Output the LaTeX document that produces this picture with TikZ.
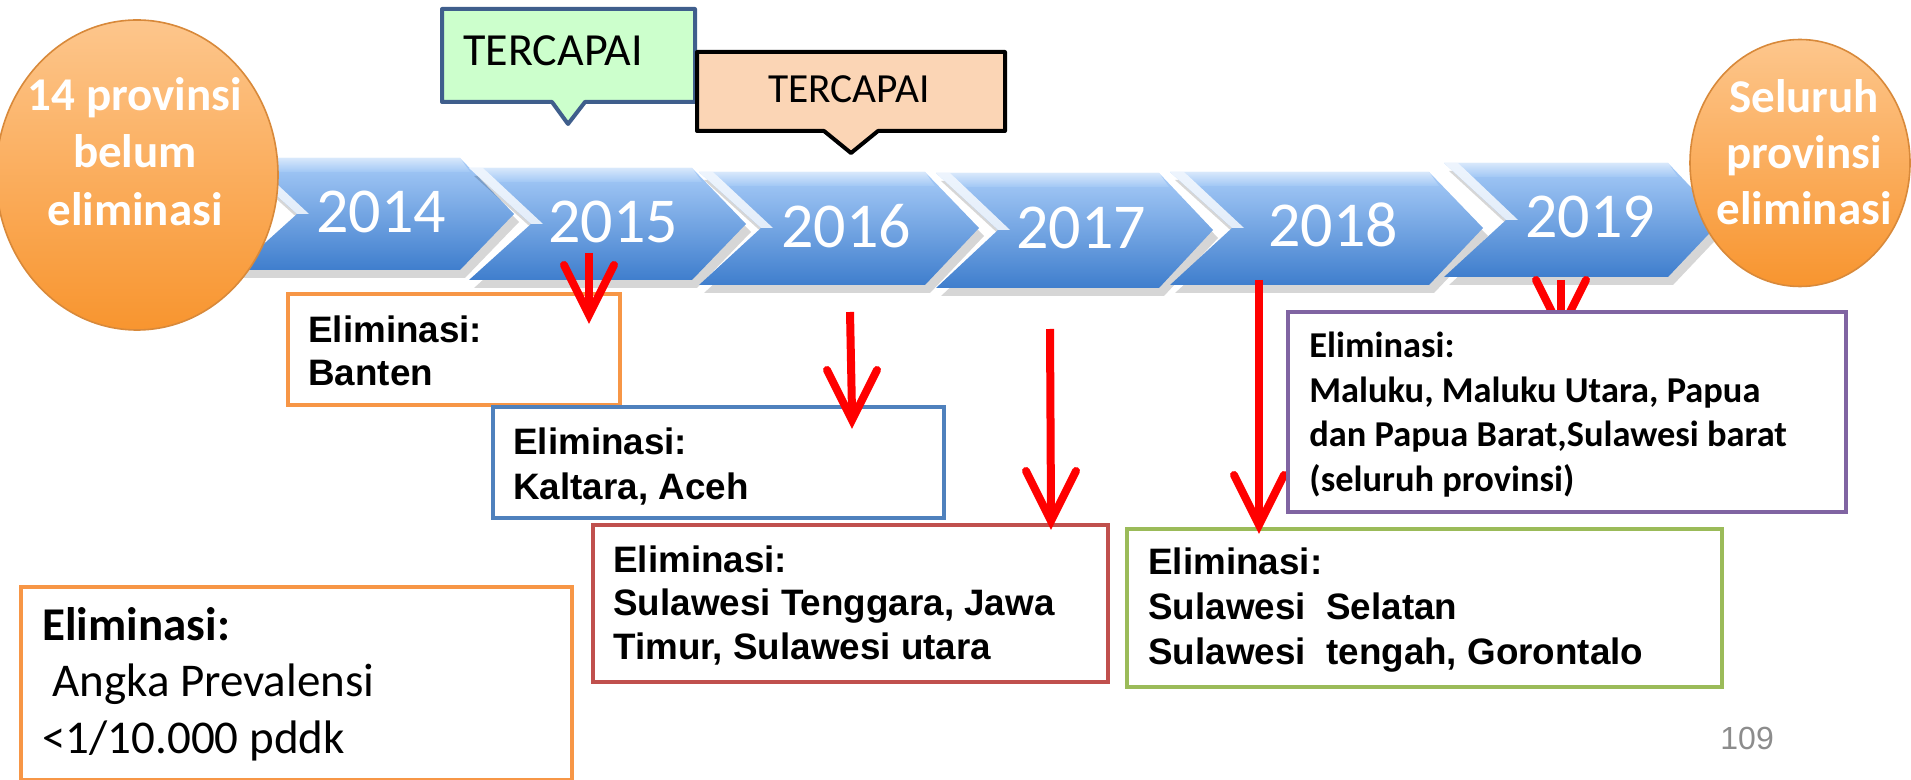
\documentclass[tikz,border=0pt]{standalone}
\usepackage{fontspec}
\setmainfont{Carlito}
\newfontfamily\arialf{Liberation Sans}
\usetikzlibrary{calc,shapes.geometric}

\definecolor{chevtop}{HTML}{A8CCF8}
\definecolor{chevbot}{HTML}{3F7ECD}
\definecolor{orgtop}{HTML}{FDC68C}
\definecolor{orgbot}{HTML}{F8952F}
\definecolor{orgedge}{HTML}{D8893A}
\definecolor{greenfill}{HTML}{CCFFCC}
\definecolor{greenedge}{HTML}{3F5E8C}
\definecolor{peach}{HTML}{FBD5B5}
\definecolor{bxorange}{HTML}{F79646}
\definecolor{bxblue}{HTML}{4F81BD}
\definecolor{bxred}{HTML}{C0504D}
\definecolor{bxgreen}{HTML}{9BBB59}
\definecolor{bxpurple}{HTML}{8064A2}
\definecolor{arrowred}{HTML}{FF0000}
\definecolor{pgnum}{HTML}{8C8C8C}

\newcommand{\chevron}[5]{%
  \fill[black,opacity=0.16] (#1+5,#3+8) -- (#2+5,#3+8) -- (#2+59,#5+8) -- (#2+5,#4+8) -- (#1+5,#4+8) -- (#1+67,#5+8) -- cycle;
  \shade[top color=chevtop, bottom color=chevbot] (#1,#3) -- (#2,#3) -- (#2+54,#5) -- (#2,#4) -- (#1,#4) -- (#1+62,#5) -- cycle;
  \shade[top color=white, bottom color=chevtop, opacity=0.55] (#1+14,#3) -- (#2,#3) -- (#2+10,#3+14) -- (#1+28,#3+14) -- cycle;
  \fill[white,opacity=0.8] (#1,#3) -- (#1+14,#3) -- (#1+74,#5) -- (#1+62,#5) -- cycle;
}

\begin{document}
\begin{tikzpicture}[x=0.5pt,y=-0.5pt,
  yeartext/.style={text=white, inner sep=0pt, font=\fontsize{32pt}{38pt}\selectfont},
  circtext/.style={text=white, inner sep=0pt, align=center, anchor=north},
  orgcirc/.style={ellipse, top color=orgtop, bottom color=orgbot, draw=orgedge, line width=0.8pt, inner sep=0pt},
  calltext/.style={inner sep=0pt, anchor=north west},
  elimbox/.style={draw=#1, fill=white, line width=2pt, inner sep=0pt, anchor=north west},
  ariatext/.style={inner sep=0pt, anchor=north west, align=left},
  redline/.style={draw=arrowred, line width=4pt},
  redhead/.style={draw=arrowred, line width=4pt, line cap=round, line join=miter},
]
\useasboundingbox (0,0) rectangle (1911,780);

% timeline chevrons
\chevron{235}{460}{158}{270}{214}
\chevron{469}{692}{168}{280}{224}
\chevron{699}{925}{172}{285}{228}
\chevron{936}{1159}{173}{288}{230}
\chevron{1170}{1429}{172}{285}{228}
\chevron{1444}{1668}{163}{277}{220}

\node[yeartext] (y2014) at (381,212) {2014};
\node[yeartext] (y2015) at (613,222) {2015};
\node[yeartext] (y2016) at (846,226) {2016};
\node[yeartext] (y2017) at (1081,228) {2017};
\node[yeartext] (y2018) at (1333,225) {2018};
\node[yeartext] (y2019) at (1590,217) {2019};

% end circles
\node[orgcirc, minimum width=141pt, minimum height=155pt] (startc) at (137,175) {};
\node[circtext, font=\bfseries\fontsize{23.5pt}{28.75pt}\selectfont] (startt) at (135,77) {14 provinsi\\belum\\eliminasi};
\node[orgcirc, minimum width=110pt, minimum height=123.5pt] (endc) at (1800,163) {};
\node[circtext, font=\bfseries\fontsize{23.5pt}{28pt}\selectfont] (endt) at (1804,79) {Seluruh\\provinsi\\eliminasi};

% callouts
\filldraw[fill=greenfill, draw=greenedge, line width=2pt, line join=round]
  (442,9) -- (695,9) -- (695,102) -- (585,102) -- (568,124) -- (552,102) -- (442,102) -- cycle;
\node[calltext, font=\fontsize{23pt}{27pt}\selectfont] (tc1) at (463,35) {TERCAPAI};
\filldraw[fill=peach, draw=black, line width=2pt, line join=round]
  (697,52) -- (1005,52) -- (1005,131) -- (878,131) -- (851,153) -- (824,131) -- (697,131) -- cycle;
\node[calltext, font=\fontsize{20.7pt}{25pt}\selectfont] (tc2) at (768,75) {TERCAPAI};

% elimination boxes
\node[elimbox=bxorange, minimum width=166pt, minimum height=55.5pt] (b15) at (286,292) {};
\node[ariatext, font=\arialf\bfseries\fontsize{18.4pt}{21.5pt}\selectfont] (t15) at (308,315) {Eliminasi:\\Banten};
\node[elimbox=bxblue, minimum width=225.5pt, minimum height=55.5pt] (b16) at (491,405) {};
\node[ariatext, font=\arialf\bfseries\fontsize{18.4pt}{22.5pt}\selectfont] (t16) at (513,427) {Eliminasi:\\Kaltara, Aceh};
\node[elimbox=bxred, minimum width=257.5pt, minimum height=78.5pt] (b17) at (591,523) {};
\node[ariatext, font=\arialf\bfseries\fontsize{18.4pt}{21.75pt}\selectfont] (t17) at (613,545) {Eliminasi:\\Sulawesi Tenggara, Jawa\\Timur, Sulawesi utara};
\node[elimbox=bxgreen, minimum width=297.5pt, minimum height=79pt] (b18) at (1125,527) {};
\node[ariatext, font=\arialf\bfseries\fontsize{18.4pt}{22.5pt}\selectfont] (t18) at (1148,547) {Eliminasi:\\Sulawesi\ \ Selatan\\Sulawesi\ \ tengah, Gorontalo};
\node[elimbox=bxorange, minimum width=275.5pt, minimum height=96.5pt] (bdef) at (19,585) {};
\node[ariatext, font=\fontsize{23.5pt}{28.25pt}\selectfont] (tdef) at (42,607) {\textbf{Eliminasi:}\\\hspace*{5pt}Angka Prevalensi\\<1/10.000 pddk};

% red arrows
\coordinate (a15s) at (589,253); \coordinate (a15e) at (589,315);
\coordinate (a16s) at (850,312); \coordinate (a16e) at (852,420);
\coordinate (a17s) at (1050,329); \coordinate (a17e) at (1051,521);
\coordinate (a18s) at (1259,280); \coordinate (a18e) at (1259,525);
\coordinate (a19s) at (1561,280); \coordinate (a19e) at (1561,330);
\foreach \a in {15,16,17,18,19}{
  \draw[redline] (a\a s) -- ($(a\a e)+(0,-8)$);
  \draw[redhead] ($(a\a e)+(-25,-50)$) -- (a\a e) -- ($(a\a e)+(25,-50)$);
}

% purple box drawn over the 2019 arrow tip
\node[elimbox=bxpurple, minimum width=279pt, minimum height=100pt] (b19) at (1286,310) {};
\node[ariatext, font=\bfseries\fontsize{18.2pt}{22.2pt}\selectfont] (t19) at (1309,332) {Eliminasi:\\Maluku, Maluku Utara, Papua\\dan Papua Barat,Sulawesi barat\\(seluruh provinsi)};

% page number
\node[calltext, text=pgnum, font=\arialf\fontsize{16pt}{19pt}\selectfont] (pg) at (1720,727) {109};
\end{tikzpicture}
\end{document}
